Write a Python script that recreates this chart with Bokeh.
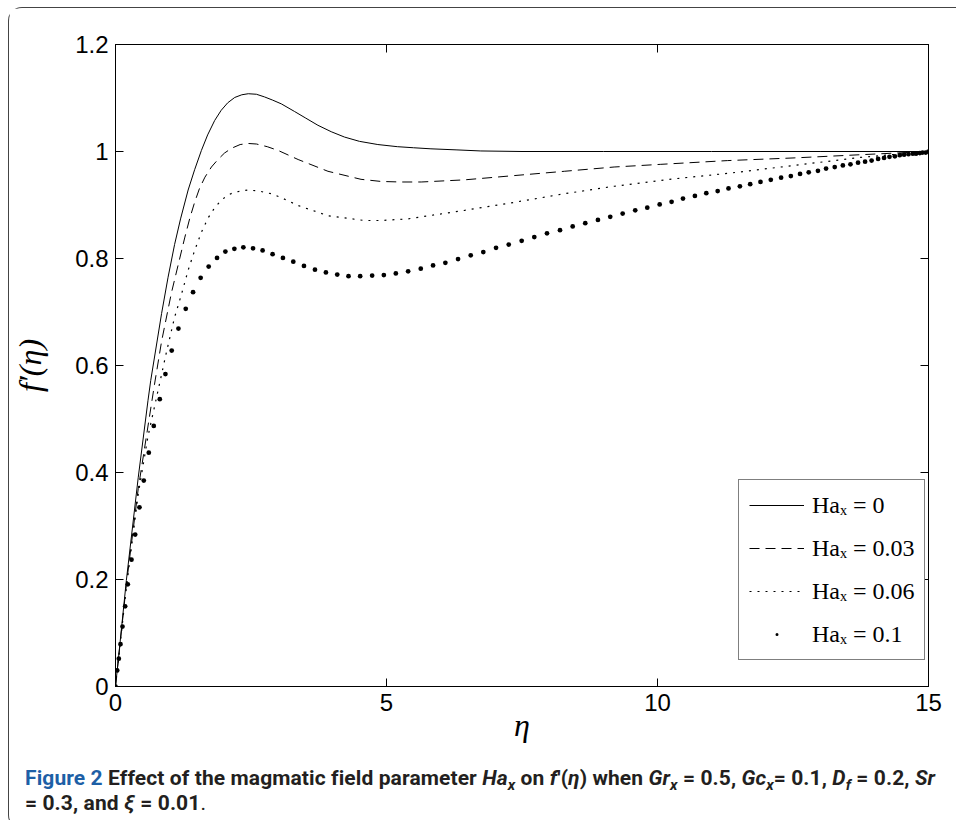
from bokeh.plotting import figure
from bokeh.models import Range1d, FixedTicker, LinearAxis, Legend, LegendItem, Div
from bokeh.layouts import column
from bokeh.embed import file_html
from bokeh.resources import INLINE

# ---------------- data ----------------
eta_ha0 = [0, 0.05, 0.2, 0.42, 0.6, 0.65, 0.85, 0.97, 1.09, 1.2, 1.34, 1.46, 1.585, 1.7,
           1.83, 1.95, 2.07, 2.2, 2.33, 2.45, 2.6, 2.75, 2.9, 3.06, 3.3, 3.5, 3.735, 3.98,
           4.225, 4.5, 4.84, 5.2, 5.5, 5.82, 6.3, 6.74, 7.5, 9, 11, 13, 15]
f_ha0 = [0, 0.048, 0.198, 0.391, 0.535, 0.572, 0.697, 0.765, 0.826, 0.874, 0.928, 0.966,
         1.002, 1.031, 1.058, 1.077, 1.091, 1.101, 1.106, 1.108, 1.107, 1.102, 1.096, 1.089,
         1.075, 1.063, 1.049, 1.037, 1.027, 1.019, 1.013, 1.009, 1.007, 1.005, 1.003, 1.001,
         1.0, 1.0, 1.0, 1.0, 1.0]

eta_ha003 = [0, 0.2, 0.42, 0.72, 0.85, 1.03, 1.28, 1.37, 1.46, 1.55, 1.65, 1.77, 1.89,
             2.01, 2.14, 2.3, 2.45, 2.6, 2.8, 3.0, 3.37, 3.92, 4.53, 4.9, 5.27, 5.64, 6.44,
             7.36, 8.28, 9.2, 10.06, 11.29, 12.52, 13.75, 15]
f_ha003 = [0, 0.19, 0.37, 0.565, 0.645, 0.735, 0.84, 0.875, 0.905, 0.931, 0.952, 0.971,
           0.985, 0.997, 1.006, 1.013, 1.015, 1.014, 1.009, 1.002, 0.985, 0.963, 0.948,
           0.944, 0.943, 0.943, 0.947, 0.955, 0.963, 0.971, 0.976, 0.983, 0.988, 0.994, 1.0]

eta_ha006 = [0, 0.2, 0.42, 0.6, 0.8, 0.94, 1.09, 1.22, 1.34, 1.46, 1.585, 1.71, 1.83, 1.95,
             2.08, 2.2, 2.445, 2.65, 2.875, 3.03, 3.37, 3.92, 4.59, 4.9, 5.39, 5.52, 6.44,
             7.36, 8.28, 9.2, 10.06, 10.31, 11.29, 12.52, 13.75, 15]
f_ha006 = [0, 0.185, 0.36, 0.468, 0.56, 0.625, 0.69, 0.734, 0.778, 0.815, 0.849, 0.876,
           0.895, 0.909, 0.919, 0.924, 0.928, 0.926, 0.921, 0.915, 0.899, 0.880, 0.871,
           0.871, 0.874, 0.876, 0.890, 0.905, 0.921, 0.935, 0.946, 0.949, 0.959, 0.974,
           0.989, 1.0]

eta_ha01 = [0, 0.031, 0.061, 0.092, 0.129, 0.178, 0.227, 0.295, 0.363, 0.442, 0.522, 0.614,
            0.706, 0.817, 0.921, 1.037, 1.161, 1.296, 1.431, 1.571, 1.719, 1.873, 2.027,
            2.193, 2.359, 2.537, 2.714, 2.898, 3.089, 3.280, 3.477, 3.680, 3.882, 4.091,
            4.299, 4.514, 4.735, 4.951, 5.172, 5.399, 5.632, 5.859, 6.086, 6.320, 6.554,
            6.786, 7.021, 7.255, 7.494, 7.727, 7.961, 8.201, 8.435, 8.667, 8.901, 9.128,
            9.357, 9.589, 9.811, 10.04, 10.26, 10.47, 10.69, 10.90, 11.11, 11.31, 11.52,
            11.71, 11.90, 12.09, 12.28, 12.46, 12.63, 12.79, 12.96, 13.11, 13.27, 13.42,
            13.56, 13.70, 13.83, 13.95, 14.07, 14.18, 14.28, 14.38, 14.47, 14.55, 14.63,
            14.71, 14.77, 14.84, 14.89, 14.95, 15.0]
f_ha01 = [0.0, 0.030, 0.052, 0.079, 0.112, 0.150, 0.191, 0.237, 0.284, 0.335, 0.385, 0.437,
          0.487, 0.537, 0.584, 0.628, 0.669, 0.706, 0.737, 0.764, 0.785, 0.801, 0.813, 0.818,
          0.821, 0.819, 0.815, 0.808, 0.801, 0.794, 0.786, 0.779, 0.774, 0.770, 0.767, 0.767,
          0.768, 0.769, 0.772, 0.776, 0.781, 0.787, 0.792, 0.799, 0.806, 0.812, 0.820, 0.826,
          0.833, 0.840, 0.847, 0.853, 0.860, 0.866, 0.872, 0.878, 0.884, 0.890, 0.895, 0.901,
          0.906, 0.912, 0.917, 0.922, 0.926, 0.931, 0.935, 0.939, 0.943, 0.947, 0.951, 0.954,
          0.958, 0.961, 0.964, 0.968, 0.971, 0.974, 0.976, 0.979, 0.981, 0.983, 0.986, 0.988,
          0.990, 0.991, 0.993, 0.994, 0.995, 0.996, 0.996, 0.997, 0.998, 0.998, 1.0]

x_ticks = [0, 5, 10, 15]
x_tick_labels = ["0", "5", "10", "15"]
y_ticks = [0, 0.2, 0.4, 0.6, 0.8, 1, 1.2]
y_tick_labels = ["0", "0.2", "0.4", "0.6", "0.8", "1", "1.2"]
legend_labels = ["Haₓ = 0", "Haₓ = 0.03", "Haₓ = 0.06", "Haₓ = 0.1"]
x_label = "η"
y_label = "f′(η)"

# ---------------- figure ----------------
TICK_FONT = "Liberation Sans"
p = figure(width=939, height=753, output_backend="svg", toolbar_location=None,
           x_range=Range1d(0, 15), y_range=Range1d(0, 1.2),
           min_border_left=103, min_border_right=20, min_border_top=36,
           min_border_bottom=75)
p.grid.visible = False
p.outline_line_color = "black"
p.outline_line_width = 1
p.background_fill_color = "white"
p.border_fill_color = "white"

x_axis = p.below[0]
y_axis = p.left[0]


def style_axis(ax, ticks, labels, show_labels=True):
    ax.ticker = FixedTicker(ticks=ticks)
    ax.major_tick_in = 8
    ax.major_tick_out = 0
    ax.minor_tick_in = 0
    ax.minor_tick_out = 0
    ax.major_tick_line_color = "black"
    ax.axis_line_color = "black"
    ax.major_label_text_font = TICK_FONT
    ax.major_label_text_color = "black"
    if show_labels:
        ax.major_label_overrides = dict(zip(ticks, labels))
        ax.major_label_text_font_size = "24px"
        ax.major_label_standoff = 7
    else:
        ax.major_label_overrides = {t: "" for t in ticks}
        ax.major_label_text_font_size = "1px"
        ax.major_label_standoff = 0


style_axis(x_axis, x_ticks, x_tick_labels)
style_axis(y_axis, y_ticks, y_tick_labels)

top_axis = LinearAxis()
style_axis(top_axis, x_ticks, x_tick_labels, show_labels=False)
p.add_layout(top_axis, "above")
right_axis = LinearAxis()
style_axis(right_axis, y_ticks, y_tick_labels, show_labels=False)
p.add_layout(right_axis, "right")

x_axis.axis_label = x_label
y_axis.axis_label = y_label
for ax in (x_axis, y_axis):
    ax.axis_label_text_font = "Liberation Serif"
    ax.axis_label_text_font_style = "italic"
    ax.axis_label_text_font_size = "32px"
    ax.axis_label_text_color = "black"
x_axis.axis_label_standoff = -7
y_axis.axis_label_standoff = 24

r0 = p.line(eta_ha0, f_ha0, line_color="black", line_width=1)
r1 = p.line(eta_ha003, f_ha003, line_color="black", line_width=1, line_dash="10 6")
r2 = p.line(eta_ha006, f_ha006, line_color="black", line_width=1.2, line_dash="2 6")
r3 = p.scatter(eta_ha01, f_ha01, marker="dot", size=19, line_color="black",
               fill_color="black")

legend = Legend(items=[LegendItem(label=lab, renderers=[r])
                       for lab, r in zip(legend_labels, [r0, r1, r2, r3])],
                location=(623, 26), margin=0, padding=10, spacing=13,
                glyph_width=55, glyph_height=30, label_height=30, label_standoff=8,
                label_text_font="Liberation Serif", label_text_font_size="24px",
                label_text_color="black", border_line_color="black", border_line_width=1,
                background_fill_color="white", background_fill_alpha=1.0)
p.add_layout(legend)

SUB = '<sub style="font-size:0.72em;line-height:0">'
caption_html = (
    '<div style="font-family:Roboto;font-weight:700;font-size:21px;'
    'line-height:25px;color:#231f20;white-space:nowrap;padding:0 0 0 11px;'
    'letter-spacing:0.1px">'
    '<span style="color:#1d5fa6">Figure 2</span> Effect of the magmatic field parameter '
    '<i>Ha' + SUB + 'x</sub></i> on <i>f</i>′(<i>η</i>) when '
    '<i>Gr' + SUB + 'x</sub></i> = 0.5, '
    '<i>Gc' + SUB + 'x</sub></i>= 0.1, '
    '<i>D' + SUB + 'f</sub></i> = 0.2, <i>Sr</i><br>'
    '= 0.3, and <i>ξ</i> = 0.01<span style="font-weight:400">.</span></div>'
)
caption = Div(text=caption_html, width=939, height=57)

layout = column(p, caption, styles={
    "margin-left": "8px",
    "margin-top": "7px",
    "border-left": "1px solid #444",
    "border-top": "1px solid #444",
    "border-bottom": "1px solid #444",
    "border-top-left-radius": "14px",
    "border-bottom-left-radius": "14px",
})

open("out.html", "w").write(file_html(layout, INLINE))
